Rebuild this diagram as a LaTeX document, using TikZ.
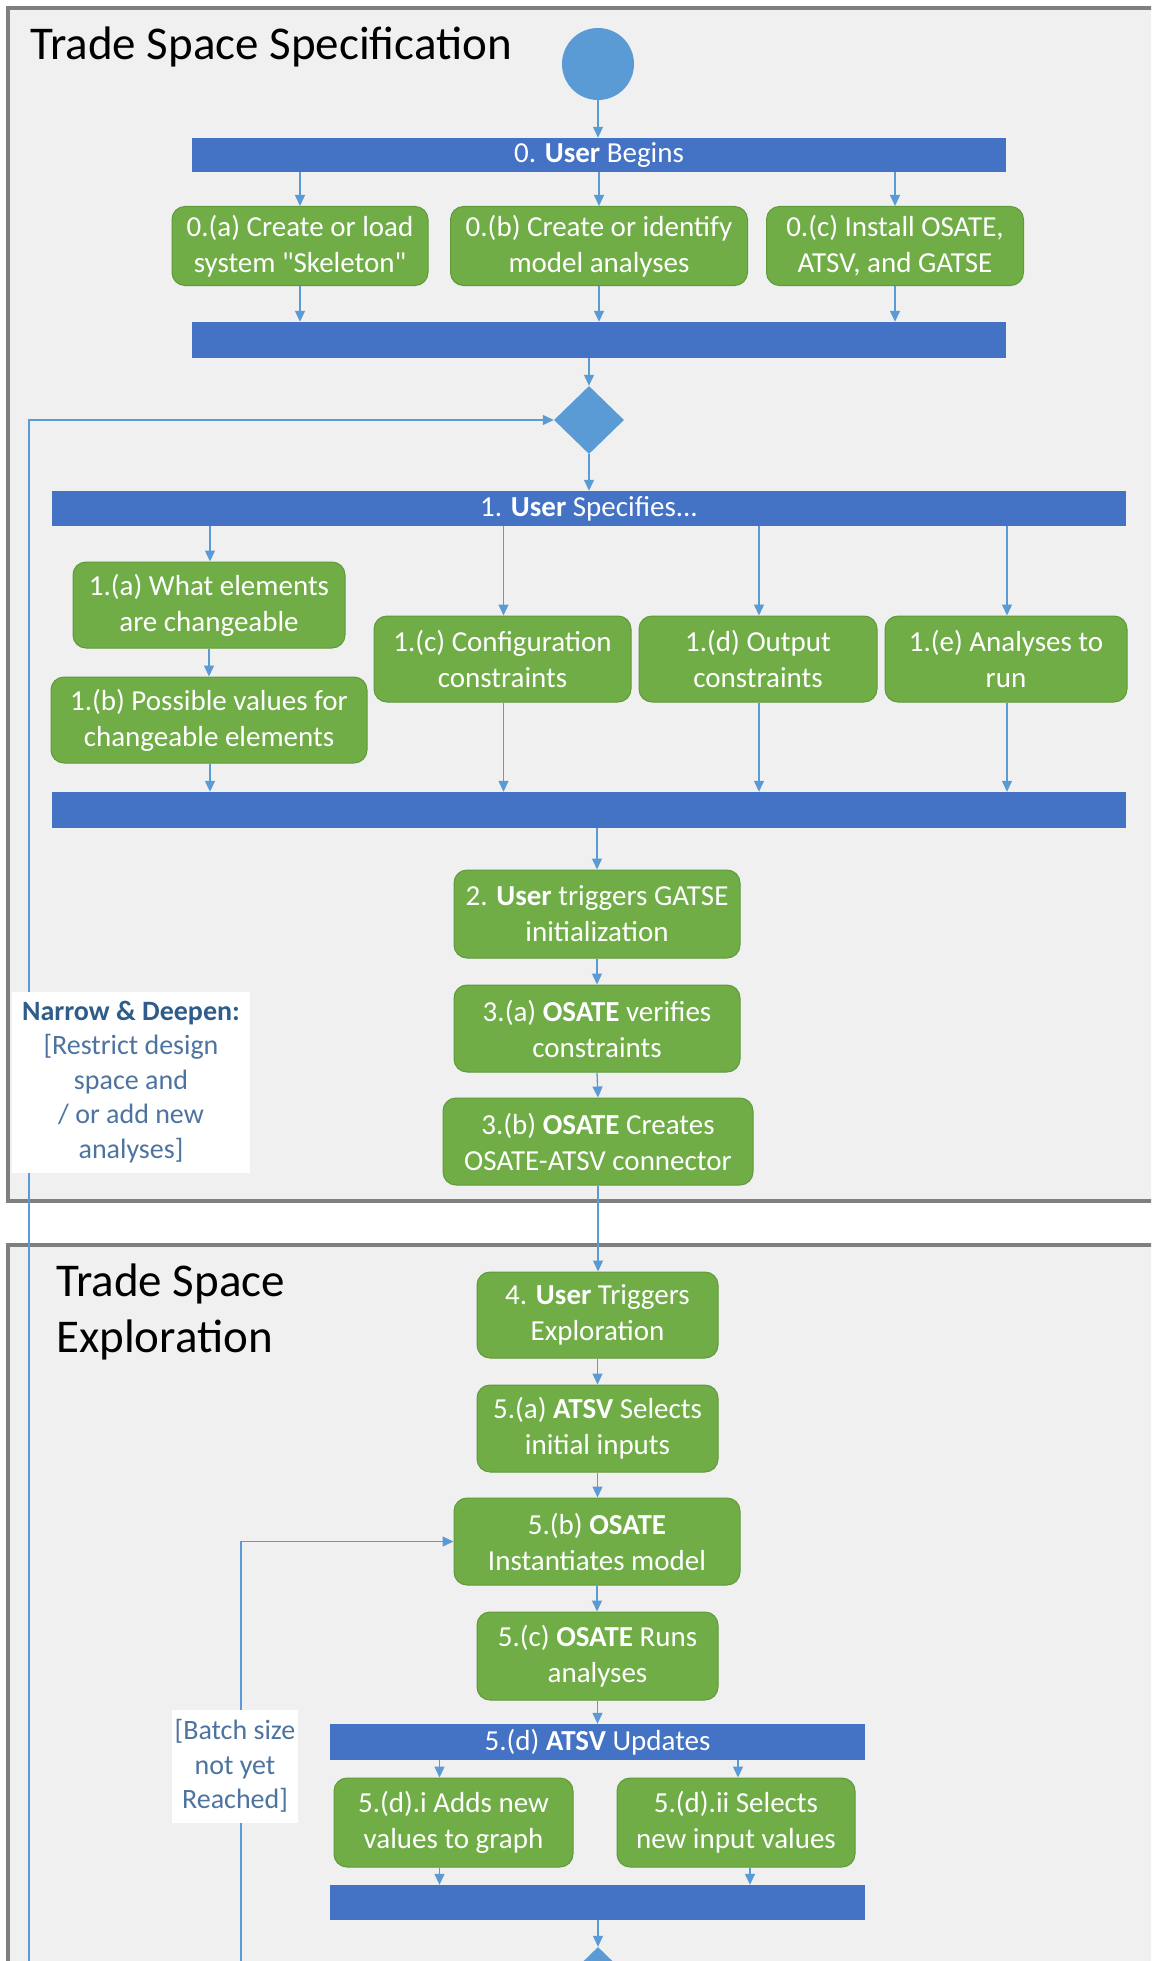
\documentclass[tikz,border=0pt]{standalone}
\usepackage{fontspec}
\setmainfont{Carlito}
\usetikzlibrary{arrows.meta,shapes.geometric,calc}
\definecolor{panelbg}{HTML}{F0F0F0}
\definecolor{boxgreen}{HTML}{70AD47}
\definecolor{boxedge}{HTML}{5E9A3A}
\definecolor{barblue}{HTML}{4472C4}
\definecolor{lightblue}{HTML}{5B9BD5}
\definecolor{panelgray}{HTML}{7F7F7F}
\definecolor{lbltext}{HTML}{4D74A0}
\definecolor{lblbold}{HTML}{2F5C8A}
\newcommand\boxfont{\fontsize{29}{36}\selectfont}
\newcommand\titlefont{\fontsize{47}{56}\selectfont}
\newcommand\lblfont{\fontsize{28}{34.5}\selectfont}
\newcommand\sq{\XeTeXglyph\XeTeXcharglyph"22\relax}
\tikzset{
  panel/.style={fill=panelbg, draw=panelgray, line width=4pt},
  gbox/.style={rectangle, rounded corners=13pt, fill=boxgreen, draw=boxedge, line width=1pt,
    text=white, align=center, font=\boxfont, inner sep=0pt, minimum height=86pt},
  barnode/.style={rectangle, fill=barblue, draw=none, text=white, font=\boxfont,
    inner sep=0pt, minimum height=35pt},
  startc/.style={circle, fill=lightblue, draw=none, minimum size=72pt, inner sep=0pt},
  decis/.style={diamond, fill=lightblue, draw=none, minimum width=70pt, minimum height=68pt, inner sep=0pt},
  conn/.style={draw=lightblue, line width=1.3pt, -{Triangle[length=11pt,width=10pt]}},
  lblbox/.style={rectangle, fill=white, draw=none, text=lbltext, align=center, font=\lblfont, inner sep=0pt},
  ttl/.style={font=\titlefont, text=black, inner sep=0pt, align=left}
}
\begin{document}
\begin{tikzpicture}[x=1pt,y=-1pt]
\clip (0,0) rectangle (1151,1961);
\fill[white] (0,0) rectangle (1151,1961);
% panels
\draw[panel] (8,8) rectangle (1180,1201);
\draw[panel] (8,1245) rectangle (1180,1995);
% titles
\node[ttl, anchor=base west] (t1) at (30,60) {Trade Space Specification};
\node[ttl, anchor=west] (t2) at (56,1312) {Trade Space\\Exploration};
% stage 0
\node[startc] (start) at (598,64) {};
\node[barnode, minimum width=814pt, minimum height=34pt] (bar0) at (599,155) {0. \textbf{User} Begins};
\node[gbox, minimum width=256pt, minimum height=79pt] (b0a) at (300,246) {0.(a) Create or load\\system \sq Skeleton\sq};
\node[gbox, minimum width=297pt, minimum height=79pt] (b0b) at (599,246) {0.(b) Create or identify\\model analyses};
\node[gbox, minimum width=257pt, minimum height=79pt] (b0c) at (895,246) {0.(c) Install OSATE,\\ATSV, and GATSE};
\node[barnode, minimum width=814pt, minimum height=36pt] (bar0b) at (599,340) {};
\node[decis] (dia) at (589,420) {};
% stage 1
\node[barnode, minimum width=1074pt, minimum height=35pt] (bar1) at (589,508.5) {1. \textbf{User} Specifies...};
\node[gbox, minimum width=272pt] (b1a) at (209,605) {1.(a) What elements\\are changeable};
\node[gbox, minimum width=316pt] (b1b) at (209,720) {1.(b) Possible values for\\changeable elements};
\node[gbox, minimum width=257pt] (b1c) at (502.5,659) {1.(c) Configuration\\constraints};
\node[gbox, minimum width=238pt] (b1d) at (758,659) {1.(d) Output\\constraints};
\node[gbox, minimum width=242pt] (b1e) at (1006,659) {1.(e) Analyses to\\run};
\node[barnode, minimum width=1074pt, minimum height=36pt] (bar1b) at (589,810) {};
% stage 2-3
\node[gbox, minimum width=286pt, minimum height=88pt] (b2) at (597,914) {2. \textbf{User} triggers GATSE\\initialization};
\node[gbox, minimum width=286pt, minimum height=87pt] (b3a) at (597,1028.5) {3.(a) \textbf{OSATE} verifies\\constraints};
\node[gbox, minimum width=310pt, minimum height=87pt] (b3b) at (598,1141.5) {3.(b) \textbf{OSATE} Creates\\OSATE-ATSV connector};
% exploration
\node[gbox, minimum width=241pt] (b4) at (597.5,1315) {4. \textbf{User} Triggers\\Exploration};
\node[gbox, minimum width=241pt, minimum height=87pt] (b5a) at (597.5,1428.5) {5.(a) \textbf{ATSV} Selects\\initial inputs};
\node[gbox, minimum width=286pt, minimum height=87pt] (b5b) at (597,1541.5) {5.(b) \textbf{OSATE}\\Instantiates model};
\node[gbox, minimum width=241pt, minimum height=88pt] (b5c) at (597.5,1656) {5.(c) \textbf{OSATE} Runs\\analyses};
\node[barnode, minimum width=535pt, minimum height=36pt] (bar5d) at (597.5,1742) {5.(d) \textbf{ATSV} Updates};
\node[gbox, minimum width=239pt, minimum height=89pt] (b5di) at (453.5,1822.5) {5.(d).i Adds new\\values to graph};
\node[gbox, minimum width=238pt, minimum height=89pt] (b5dii) at (736,1822.5) {5.(d).ii Selects\\new input values};
\node[barnode, minimum width=535pt, minimum height=35pt] (bar5e) at (597.5,1902.5) {};
\node[decis] (dia2) at (598,1981) {};
% connectors
\draw[conn] (start.south) -- (start.south |- bar0.north);
\foreach \n in {b0a,b0b,b0c}{
  \draw[conn] (bar0.south -| \n.north) -- (\n.north);
  \draw[conn] (\n.south) -- (\n.south |- bar0b.north);
}
\draw[conn] (bar0b.south -| dia.north) -- (dia.north);
\draw[conn] (dia.south) -- (dia.south |- bar1.north);
\foreach \n in {b1a,b1c,b1d,b1e}{
  \draw[conn] ([xshift=1pt]bar1.south -| \n.north) -- ([xshift=1pt]\n.north);
}
\draw[conn] (b1a.south) -- (b1b.north);
\foreach \n in {b1b,b1c,b1d,b1e}{
  \draw[conn] ([xshift=1pt]\n.south) -- ([xshift=1pt]\n.south |- bar1b.north);
}
\draw[conn] (bar1b.south -| b2.north) -- (b2.north);
\draw[conn] (b2.south) -- (b3a.north);
\draw[conn] (b3a.south) -- (b3b.north);
\draw[conn] (b3b.south) -- (b3b.south |- b4.north);
\draw[conn] (b4.south) -- (b5a.north);
\draw[conn] (b5a.south) -- (b5a.south |- b5b.north);
\draw[conn] (b5b.south) -- (b5b.south |- b5c.north);
\draw[conn] (b5c.south) -- (b5c.south |- bar5d.north);
\draw[conn] ([xshift=-14pt]bar5d.south -| b5di.north) -- ([xshift=-14pt]b5di.north);
\draw[conn] ([xshift=2pt]bar5d.south -| b5dii.north) -- ([xshift=2pt]b5dii.north);
\draw[conn] ([xshift=-14pt]b5di.south) -- ([xshift=-14pt]b5di.south |- bar5e.north);
\draw[conn] ([xshift=14pt]b5dii.south) -- ([xshift=14pt]b5dii.south |- bar5e.north);
\draw[conn] (bar5e.south -| dia2.north) -- (dia2.north);
% loops
\coordinate (loopA) at (29,1995);
\coordinate (loopB) at (241,1995);
\draw[conn] (loopA) |- (dia.west);
\draw[conn] (loopB) |- (b5b.west);
% guard labels
\node[lblbox, minimum width=238pt, minimum height=181pt] (nd) at (131,1082)
  {\textbf{\color{lblbold}Narrow \& Deepen:}\\{[}Restrict design\\space and\\/ or add new\\analyses]};
\node[lblbox, minimum width=126pt, minimum height=113pt] (bs) at (235,1766)
  {{[}Batch size\\not yet\\Reached]};
\end{tikzpicture}
\end{document}
